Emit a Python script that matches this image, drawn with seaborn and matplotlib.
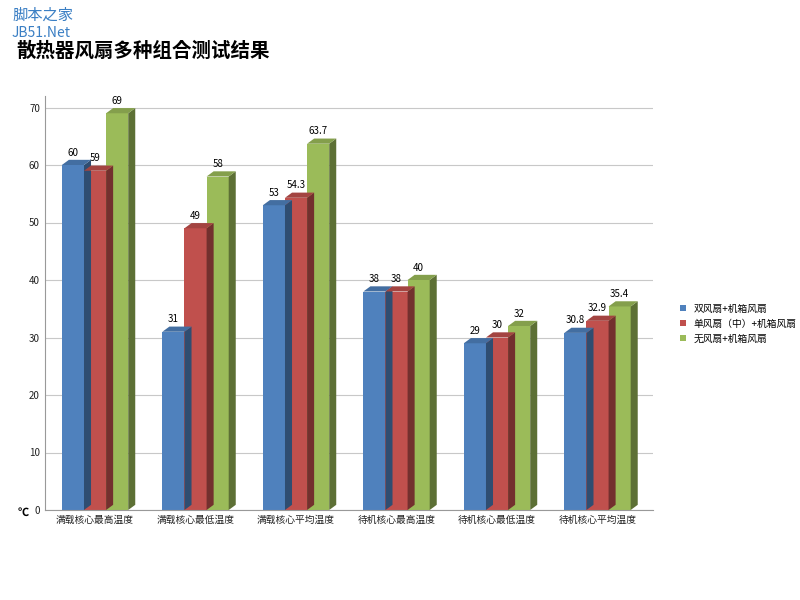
import matplotlib
matplotlib.use("Agg")
import matplotlib.pyplot as plt
from matplotlib import font_manager
from matplotlib.patches import Polygon
import seaborn as sns
import pandas as pd

cjk = [f.name for f in font_manager.fontManager.ttflist if "CJK" in f.name]
plt.rcParams["font.family"] = "sans-serif"
plt.rcParams["font.sans-serif"] = sorted(set(cjk), key=lambda n: "SC" not in n) + ["DejaVu Sans"]
plt.rcParams["axes.unicode_minus"] = False

categories = ["满载核心最高温度", "满载核心最低温度", "满载核心平均温度",
              "待机核心最高温度", "待机核心最低温度", "待机核心平均温度"]
series_names = ["双风扇+机箱风扇", "单风扇（中）+机箱风扇", "无风扇+机箱风扇"]
dual_fan = [60, 31, 53, 38, 29, 30.8]
single_fan = [59, 49, 54.3, 38, 30, 32.9]
no_fan = [69, 58, 63.7, 40, 32, 35.4]
colors = ["#4F81BD", "#C0504D", "#9BBB59"]

rows = []
for name, vals in zip(series_names, [dual_fan, single_fan, no_fan]):
    for c, v in zip(categories, vals):
        rows.append({"cat": c, "series": name, "val": v})
df = pd.DataFrame(rows)

fig = plt.figure(figsize=(8, 6), dpi=100)
ax = fig.add_axes([0.056, 0.15, 0.76, 0.69])
sns.barplot(data=df, x="cat", y="val", hue="series", palette=colors,
            width=0.66, ax=ax, saturation=1, edgecolor="none", legend=True)

ax.set_ylim(0, 72)
ax.set_yticks(range(0, 71, 10))
ax.yaxis.grid(True, color="#c8c8c8", lw=0.8)
ax.set_axisbelow(True)
ax.set_xlabel("")
ax.set_ylabel("")
for s in ["top", "right"]:
    ax.spines[s].set_visible(False)
ax.spines["left"].set_color("#999999")
ax.spines["bottom"].set_color("#999999")
ax.tick_params(axis="both", labelsize=7, length=0, colors="#222222")
ax.set_xlim(-0.5, 5.55)

# fake 3D depth from each bar
dx, dy = 0.07, 0.9
for bar in list(ax.patches):
    h = bar.get_height()
    if h == 0 or bar.get_width() == 0:
        continue
    x0, w = bar.get_x(), bar.get_width()
    base = bar.get_facecolor()
    dark = tuple(c * 0.6 for c in base[:3])
    light = tuple(min(1, c * 0.85) for c in base[:3])
    ax.add_patch(Polygon([(x0 + w, 0), (x0 + w + dx, dy), (x0 + w + dx, h + dy), (x0 + w, h)],
                         closed=True, fc=dark, ec="none", zorder=3))
    ax.add_patch(Polygon([(x0, h), (x0 + dx, h + dy), (x0 + w + dx, h + dy), (x0 + w, h)],
                         closed=True, fc=light, ec="none", zorder=3))
    ax.text(x0 + w / 2, h + dy + 0.4, f"{h:g}", ha="center", va="bottom", fontsize=7)

ax.legend(loc="center left", bbox_to_anchor=(1.03, 0.45), frameon=False, fontsize=7,
          handlelength=0.6, handleheight=0.6)
fig.text(0.022, 0.14, "℃", fontsize=8, fontweight="bold")
fig.text(0.02, 0.905, "散热器风扇多种组合测试结果", fontsize=14, fontweight="bold")
fig.text(0.015, 0.975, "脚本之家", fontsize=11, color="#3a7fc4", va="center")
fig.text(0.015, 0.945, "JB51.Net", fontsize=10, color="#3a7fc4", va="center")

fig.savefig("out.png", dpi=100)
